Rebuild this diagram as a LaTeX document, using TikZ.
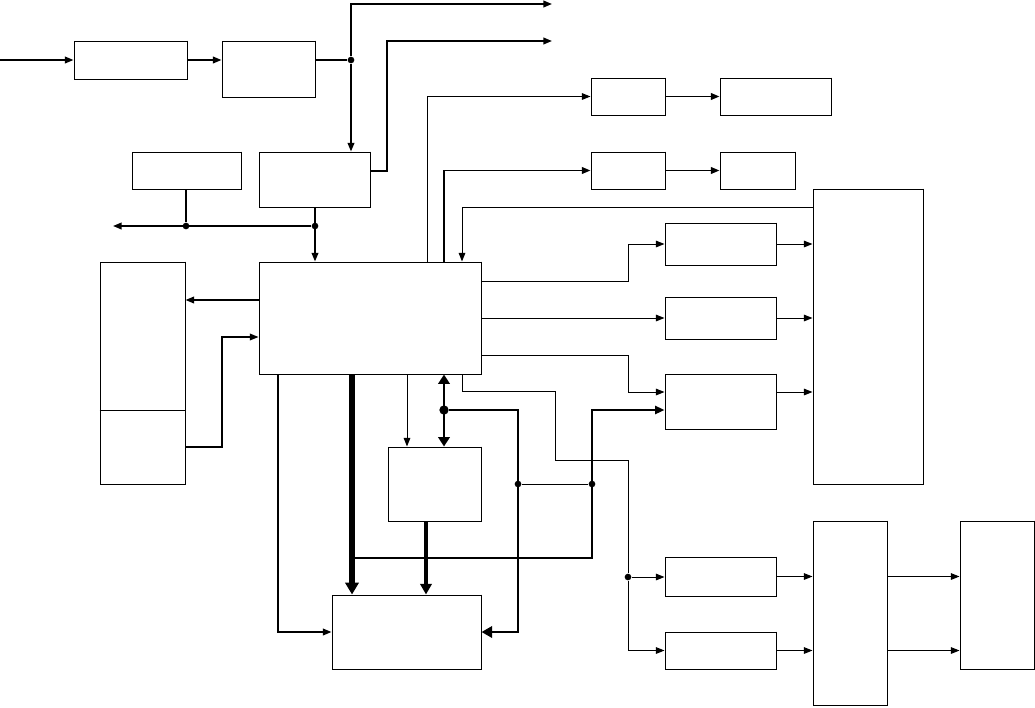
\documentclass[tikz,border=0pt]{standalone}
\usetikzlibrary{arrows.meta,fit}

\begin{document}
\begin{tikzpicture}[
  x=0.75pt, y=-0.75pt,
  blk/.style={draw, line width=0.75pt, inner sep=0pt},
  ln/.style={line width=0.75pt},
  md/.style={line width=1.3pt},
  bus/.style={line width=2pt},
  mbus/.style={line width=3pt},
  hbus/.style={line width=4.5pt},
  a/.style={-{Triangle[length=6.5pt,width=5pt]}},
  ab/.style={-{Triangle[length=8pt,width=8.5pt]}},
  dot/.style={circle, fill, inner sep=0pt, minimum size=5pt},
  bigdot/.style={dot, minimum size=7pt}
]
\useasboundingbox (0,0) rectangle (1035,707);

% blocks
\node[blk, fit={(74,41) (187,79)}] (inp) {};
\node[blk, fit={(222,41) (315,97)}] (pre) {};
\node[blk, fit={(132,152) (241,189)}] (aux) {};
\node[blk, fit={(259,152) (370,207)}] (ctl) {};
\node[blk, fit={(259,262) (481,374)}] (core) {};
\node[blk, fit={(100,262) (185,484)}] (mem) {};
\node[blk, fit={(591,78) (665,115)}] (t1) {};
\node[blk, fit={(720,78) (831,115)}] (t2) {};
\node[blk, fit={(591,152) (665,189)}] (s1) {};
\node[blk, fit={(720,152) (795,189)}] (s2) {};
\node[blk, fit={(813,189) (923,484)}] (mux) {};
\node[blk, fit={(665,223) (776,265)}] (ch1) {};
\node[blk, fit={(665,297) (776,339)}] (ch2) {};
\node[blk, fit={(665,374) (776,429)}] (ch3) {};
\node[blk, fit={(388,447) (481,521)}] (buf) {};
\node[blk, fit={(332,595) (481,669)}] (out) {};
\node[blk, fit={(665,557) (776,596)}] (dr1) {};
\node[blk, fit={(665,632) (776,669)}] (dr2) {};
\node[blk, fit={(813,521) (887,705)}] (sel) {};
\node[blk, fit={(960,521) (1034,669)}] (disp) {};
\draw[ln] (mem.west |- 0,410) -- (mem.east |- 0,410);
% shadowed edges
\foreach \b in {inp,pre,aux,ctl,core,mem,t1,t2,s1,s2,mux,ch1,ch2,ch3,buf,out,dr1,dr2,sel,disp}
  \draw[line width=1.3pt] (\b.north east) -- (\b.south east) -- (\b.south west);

% junctions
\node[dot] (j1) at (351,60) {};
\node[dot] (j2) at (186,226) {};
\node[dot] (j3) at (315,226) {};
\node[dot] (j4) at (628,577) {};
\node[bigdot] (j5) at (444,410) {};
\node[dot] (j6) at (518,484) {};
\node[dot] (j7) at (592,484) {};
\coordinate (src) at (0,60);
\coordinate (o1) at (552,4);
\coordinate (o2) at (552,41);
\coordinate (o3) at (113,226);
\coordinate (tap) at (352,558);

% top chain
\draw[md,a] (src) -- (inp.west);
\draw[md,a] (inp.east) -- (pre.west |- inp);
\draw[md] (pre.east |- j1) -- (j1);
\draw[md,a] (j1) |- (o1);
\draw[md,a] (j1) -- (j1 |- ctl.north);
\draw[md,a] (ctl.east |- 0,171) -| (387,41) -- (o2);
\draw[md] (aux.south -| j2) -- (j2);
\draw[md,a] (j3) -- (o3);
\draw[md,a] (ctl.south -| j3) -- (j3 |- core.north);

% core top
\draw[ln,a] (core.north -| 427,0) |- (t1.west);
\draw[md,a] (t1) -- (t2);
\draw[md,a] (core.north -| 444,0) |- (s1.west);
\draw[md,a] (s1) -- (s2);
\draw[ln,a] (mux.west |- 0,207) -| (core.north -| 462,0);

% core right
\draw[ln,a] (core.east |- 0,281) -- (628,281) |- (ch1.west);
\draw[ln,a] (core.east |- ch2) -- (ch2.west);
\draw[ln,a] (core.east |- 0,355) -- (628,355) |- (ch3.west |- 0,392);
\draw[ln,a] (ch1.east) -- (mux.west |- ch1);
\draw[ln,a] (ch2.east) -- (mux.west |- ch2);
\draw[ln,a] (ch3.east |- 0,392) -- (mux.west |- 0,392);

% drivers
\draw[ln] (core.south -| 462,0) |- (555,391) |- (j4 |- 0,460) -- (j4);
\draw[ln,a] (j4) -- (dr1.west |- j4);
\draw[ln,a] (j4) |- (dr2.west);
\draw[ln,a] (dr1.east) -- (sel.west |- dr1);
\draw[ln,a] (dr2.east) -- (sel.west |- dr2);
\draw[ln,a] (sel.east |- dr1) -- (disp.west |- dr1);
\draw[ln,a] (sel.east |- dr2) -- (disp.west |- dr2);

% left
\draw[md,a] (core.west |- 0,300) -- (mem.east |- 0,300);
\draw[line width=1pt,a] (mem.east |- 0,447) -- (222,447) |- (core.west |- 0,337);

% bottom
\draw[hbus,-{Triangle[length=9pt,width=10pt]}] (core.south -| tap) -- (out.north -| tap);
\draw[ln,a] (core.south -| 407,0) -- (buf.north -| 407,0);
\draw[bus,{Triangle[length=7pt,width=8.5pt]}-{Triangle[length=7pt,width=8.5pt]}] (core.south -| j5) -- (buf.north -| j5);
\draw[bus,ab] (j5) -| (518,632) -- (out.east);
\draw[ln] (j6) -- (j7);
\draw[line width=1.6pt,-{Triangle[length=7pt,width=6pt]}] (tap) -| (592,410) -- (ch3.west |- 0,410);
\draw[mbus,ab] (buf.south -| 426,0) -- (out.north -| 426,0);
\draw[md,a] (core.south -| 278,0) |- (out.west);
\end{tikzpicture}
\end{document}
